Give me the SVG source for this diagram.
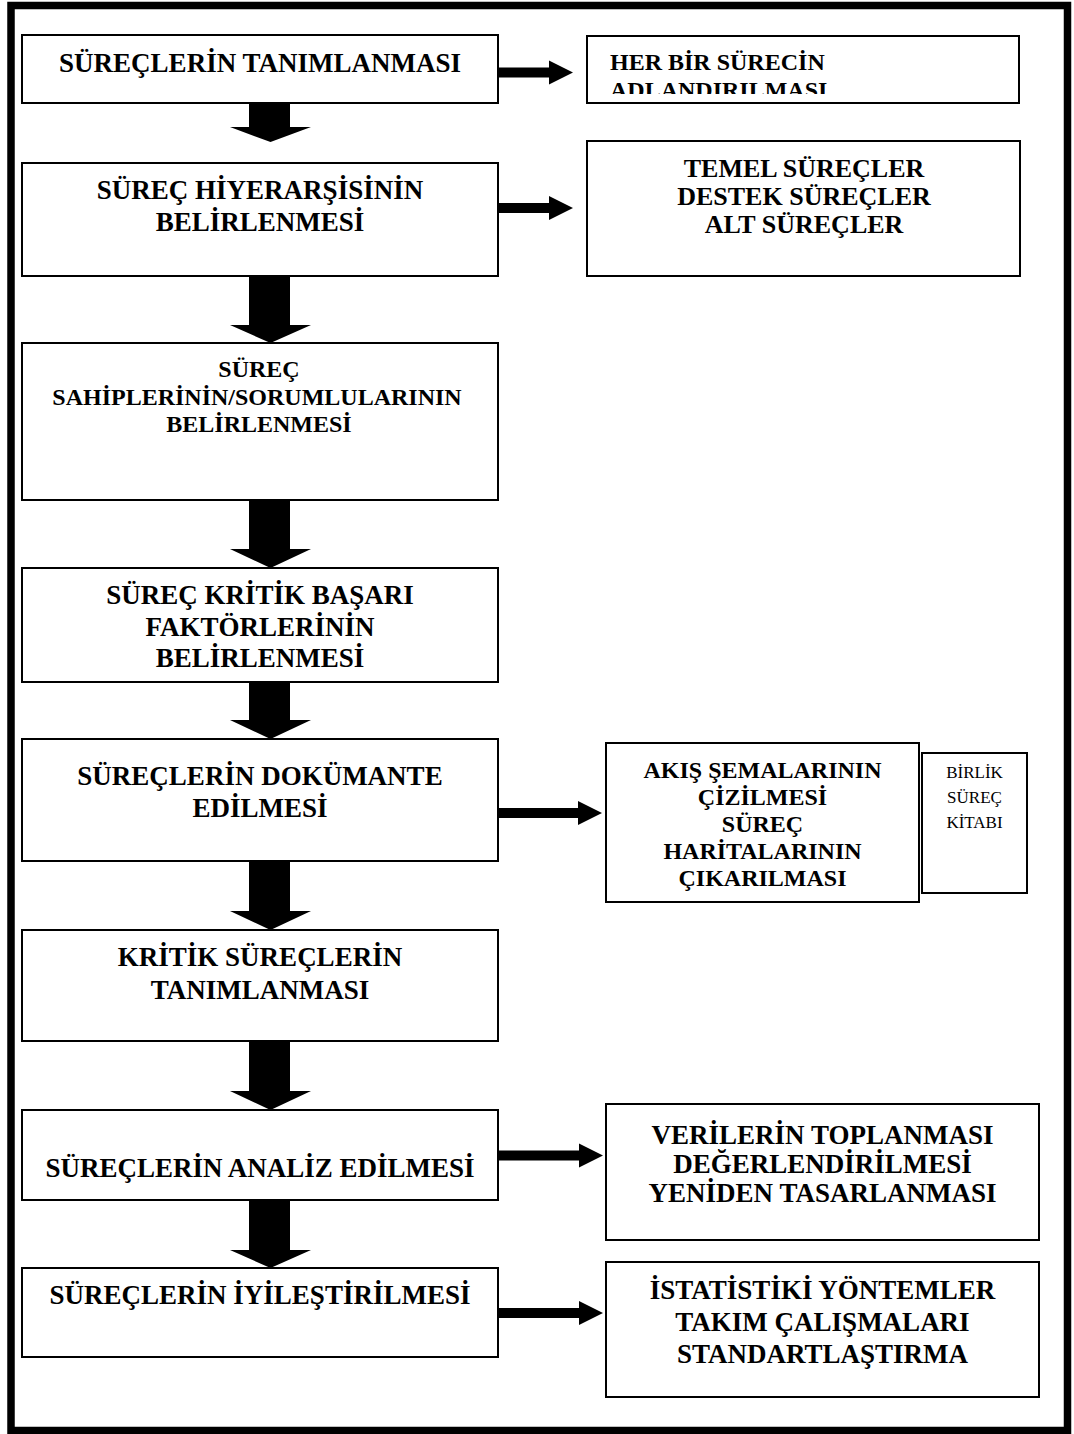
<svg xmlns="http://www.w3.org/2000/svg" width="1074" height="1434" viewBox="0 0 1074 1434">
  <style>
    .frame { fill: none; stroke: #000; stroke-width: 7.5; }
    .box { fill: #fff; stroke: #000; stroke-width: 2; }
    .t { font-family: "Liberation Serif", "Times New Roman", serif; font-weight: bold; font-size: 27px; text-anchor: middle; fill: #000; }
    .s { font-size: 24px; }
    .m { font-size: 26px; }
    .l { text-anchor: start; }
    .n { font-family: "Liberation Serif", "Times New Roman", serif; font-weight: normal; font-size: 17px; text-anchor: middle; fill: #000; }
    .arr { fill: #000; }
  </style>
  <defs>
    <clipPath id="clipA">
      <rect x="588" y="37" width="430" height="57"/>
    </clipPath>
  </defs>

  <rect id="page-frame" class="frame" x="11" y="5.5" width="1056.5" height="1425"/>

  <!-- connectors -->
  <g id="connectors">
    <!-- downward block arrows -->
    <polygon class="arr" points="249,103 290,103 290,127 311,127 270.5,142 230,127 249,127"/>
    <polygon class="arr" points="249,276 290,276 290,325 311,325 270.5,343 230,325 249,325"/>
    <polygon class="arr" points="249,500 290,500 290,549 311,549 270.5,568 230,549 249,549"/>
    <polygon class="arr" points="249,682 290,682 290,720 311,720 270.5,739 230,720 249,720"/>
    <polygon class="arr" points="249,861 290,861 290,911 311,911 270.5,930 230,911 249,911"/>
    <polygon class="arr" points="249,1041 290,1041 290,1091 311,1091 270.5,1110 230,1091 249,1091"/>
    <polygon class="arr" points="249,1200 290,1200 290,1250 311,1250 270.5,1268 230,1250 249,1250"/>
    <!-- rightward arrows -->
    <polygon class="arr" points="498,67.5 549,67.5 549,60.5 573,72.5 549,84.5 549,77.5 498,77.5"/>
    <polygon class="arr" points="498,203 549,203 549,196 573,208 549,220 549,213 498,213"/>
    <polygon class="arr" points="498,808 578,808 578,801 602,813 578,825 578,818 498,818"/>
    <polygon class="arr" points="498,1150.5 579,1150.5 579,1143.5 603,1155.5 579,1167.5 579,1160.5 498,1160.5"/>
    <polygon class="arr" points="498,1308 579,1308 579,1301 603,1313 579,1325 579,1318 498,1318"/>
  </g>

  <!-- main process steps -->
  <g id="step1">
    <rect class="box" x="22" y="35" width="476" height="68"/>
    <text class="t" x="260" y="72">SÜREÇLERİN TANIMLANMASI</text>
  </g>
  <g id="step2">
    <rect class="box" x="22" y="163" width="476" height="113"/>
    <text class="t" x="260" y="199">SÜREÇ HİYERARŞİSİNİN</text>
    <text class="t" x="260" y="231">BELİRLENMESİ</text>
  </g>
  <g id="step3">
    <rect class="box" x="22" y="343" width="476" height="157"/>
    <text class="t s" x="259" y="377">SÜREÇ</text>
    <text class="t s" x="257" y="405">SAHİPLERİNİN/SORUMLULARININ</text>
    <text class="t s" x="259" y="432">BELİRLENMESİ</text>
  </g>
  <g id="step4">
    <rect class="box" x="22" y="568" width="476" height="114"/>
    <text class="t" x="260" y="604">SÜREÇ KRİTİK BAŞARI</text>
    <text class="t" x="260" y="636">FAKTÖRLERİNİN</text>
    <text class="t" x="260" y="667">BELİRLENMESİ</text>
  </g>
  <g id="step5">
    <rect class="box" x="22" y="739" width="476" height="122"/>
    <text class="t" x="260" y="785">SÜREÇLERİN DOKÜMANTE</text>
    <text class="t" x="260" y="817">EDİLMESİ</text>
  </g>
  <g id="step6">
    <rect class="box" x="22" y="930" width="476" height="111"/>
    <text class="t" x="260" y="966">KRİTİK SÜREÇLERİN</text>
    <text class="t" x="260" y="999">TANIMLANMASI</text>
  </g>
  <g id="step7">
    <rect class="box" x="22" y="1110" width="476" height="90"/>
    <text class="t" x="260" y="1177">SÜREÇLERİN ANALİZ EDİLMESİ</text>
  </g>
  <g id="step8">
    <rect class="box" x="22" y="1268" width="476" height="89"/>
    <text class="t" x="260" y="1304">SÜREÇLERİN İYİLEŞTİRİLMESİ</text>
  </g>

  <!-- side notes -->
  <g id="note-naming">
    <rect class="box" x="587" y="36" width="432" height="67"/>
    <g clip-path="url(#clipA)">
      <text class="t s l" x="610" y="70">HER BİR SÜRECİN</text>
      <text class="t s l" x="610" y="98">ADLANDIRILMASI</text>
    </g>
  </g>
  <g id="note-hierarchy">
    <rect class="box" x="587" y="141" width="433" height="135"/>
    <text class="t m" x="804" y="177">TEMEL SÜREÇLER</text>
    <text class="t m" x="804" y="205">DESTEK SÜREÇLER</text>
    <text class="t m" x="804" y="233">ALT SÜREÇLER</text>
  </g>
  <g id="note-documenting">
    <rect class="box" x="606" y="743" width="313" height="159"/>
    <text class="t s" x="762.5" y="778">AKIŞ ŞEMALARININ</text>
    <text class="t s" x="762.5" y="805">ÇİZİLMESİ</text>
    <text class="t s" x="762.5" y="832">SÜREÇ</text>
    <text class="t s" x="762.5" y="859">HARİTALARININ</text>
    <text class="t s" x="762.5" y="886">ÇIKARILMASI</text>
  </g>
  <g id="note-book">
    <rect class="box" x="922" y="753" width="105" height="140"/>
    <text class="n" x="974.5" y="778">BİRLİK</text>
    <text class="n" x="974.5" y="803">SÜREÇ</text>
    <text class="n" x="974.5" y="828">KİTABI</text>
  </g>
  <g id="note-analysis">
    <rect class="box" x="606" y="1104" width="433" height="136"/>
    <text class="t" x="822.5" y="1144">VERİLERİN TOPLANMASI</text>
    <text class="t" x="822.5" y="1173">DEĞERLENDİRİLMESİ</text>
    <text class="t" x="822.5" y="1202">YENİDEN TASARLANMASI</text>
  </g>
  <g id="note-improvement">
    <rect class="box" x="606" y="1262" width="433" height="135"/>
    <text class="t" x="822.5" y="1299">İSTATİSTİKİ YÖNTEMLER</text>
    <text class="t" x="822.5" y="1331">TAKIM ÇALIŞMALARI</text>
    <text class="t" x="822.5" y="1363">STANDARTLAŞTIRMA</text>
  </g>
</svg>
